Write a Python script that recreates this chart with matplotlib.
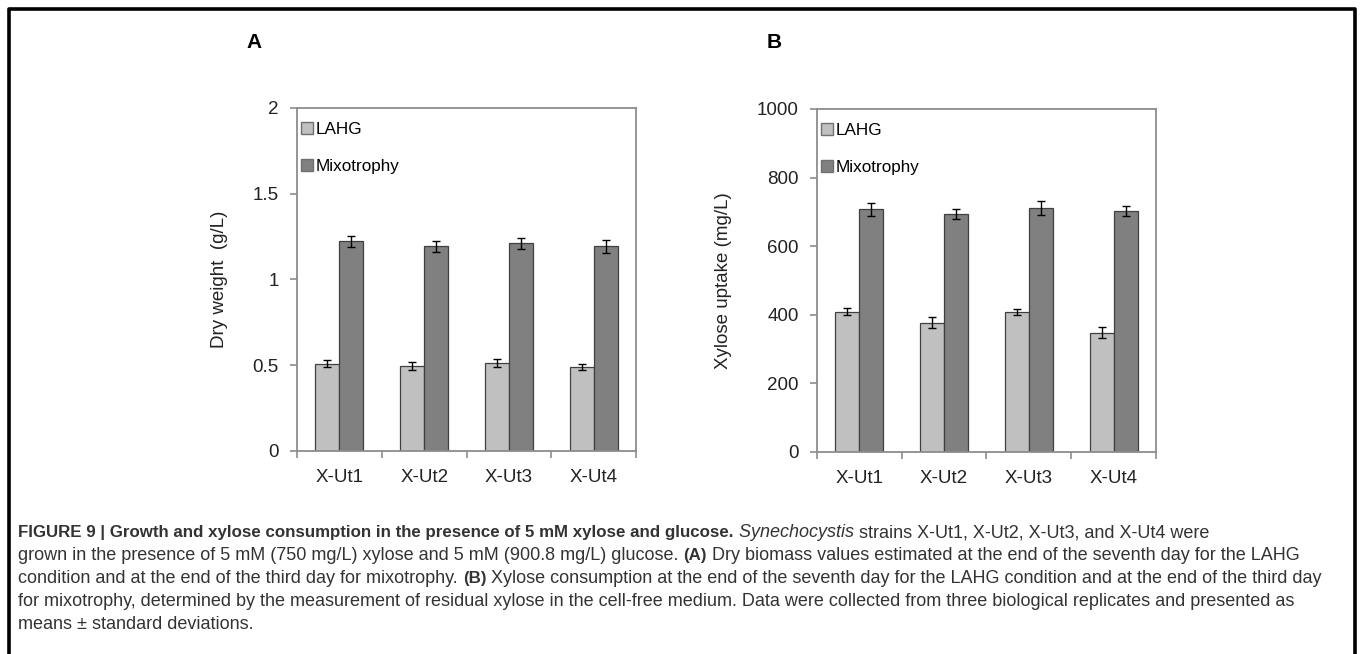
import numpy as np
import matplotlib
matplotlib.use("Agg")
import matplotlib.pyplot as plt
from matplotlib.lines import Line2D

plt.rcParams['font.family'] = ['Liberation Sans', 'DejaVu Sans']

strains = ["X-Ut1", "X-Ut2", "X-Ut3", "X-Ut4"]
series = ["LAHG", "Mixotrophy"]

# panel A: dry weight (g/L)
dw_lahg = [0.509, 0.494, 0.513, 0.490]
dw_lahg_err = [0.020, 0.022, 0.022, 0.015]
dw_mixo = [1.222, 1.193, 1.210, 1.193]
dw_mixo_err = [0.033, 0.033, 0.030, 0.038]

# panel B: xylose uptake (mg/L)
xu_lahg = [409, 377, 409, 347]
xu_lahg_err = [11, 16, 9, 16]
xu_mixo = [707, 694, 712, 702]
xu_mixo_err = [20, 15, 21, 15]

light = "#c0c0c0"
dark = "#808080"
edge = "#404040"
frame = "#8c8c8c"

fig = plt.figure(figsize=(13.6, 6.54), dpi=100)


def panel(rect, lahg, lahg_err, mixo, mixo_err, ymax, ystep, ylabel, letter):
    ax = fig.add_axes(rect)
    x = np.arange(len(strains))
    w = 0.284
    ax.bar(x - w / 2, lahg, w, color=light, edgecolor=edge, linewidth=0.9, label=series[0])
    ax.bar(x + w / 2, mixo, w, color=dark, edgecolor=edge, linewidth=0.9, label=series[1])
    ax.errorbar(x - w / 2, lahg, yerr=lahg_err, fmt="none", ecolor="black", elinewidth=1, capsize=3, capthick=1)
    ax.errorbar(x + w / 2, mixo, yerr=mixo_err, fmt="none", ecolor="black", elinewidth=1, capsize=3, capthick=1)
    ax.set_xlim(-0.5, len(strains) - 0.5)
    ax.set_ylim(0, ymax)
    ticks = np.arange(0, ymax + ystep / 2, ystep)
    ax.set_yticks(ticks)
    ax.set_yticklabels(["%g" % v for v in ticks])
    ax.set_xticks(np.arange(-0.5, len(strains)), labels=[""] * (len(strains) + 1))
    ax.set_xticks(x, labels=strains, minor=True)
    ax.tick_params(axis="x", which="minor", length=0, labelsize=13.5, pad=13, colors="#222222")
    ax.tick_params(axis="x", which="major", length=5, width=1.2, color=frame, direction="out")
    ax.tick_params(axis="y", length=5, width=1.2, color=frame, labelsize=13.5, pad=8, labelcolor="#222222")
    for s in ax.spines.values():
        s.set_color(frame)
        s.set_linewidth(1.3)
    ax.set_ylabel(ylabel, fontsize=13.5, labelpad=18, color="#222222")
    handles = [Line2D([], [], marker="s", linestyle="none", markersize=8,
                      markerfacecolor=c, markeredgecolor="#707070") for c in (light, dark)]
    ax.legend(handles, series, loc="upper left", bbox_to_anchor=(-0.027, 1.0),
              frameon=False, fontsize=12.3,
              handlelength=0.6, handletextpad=0.2, labelspacing=1.3,
              borderaxespad=0.6, borderpad=0.2)
    fig.text(rect[0] - 0.037, 0.935, letter, fontsize=15, fontweight="bold", va="center")
    return ax


panel([0.2184, 0.3104, 0.2493, 0.5245], dw_lahg, dw_lahg_err, dw_mixo, dw_mixo_err,
      2, 0.5, "Dry weight  (g/L)", "A")
panel([0.6007, 0.3089, 0.2493, 0.5245], xu_lahg, xu_lahg_err, xu_mixo, xu_mixo_err,
      1000, 200, "Xylose uptake (mg/L)", "B")

# outer frame (top, left, right)
fig.add_artist(Line2D([9 / 1360, 9 / 1360, 1355 / 1360, 1355 / 1360],
                      [0, 1 - 9 / 654, 1 - 9 / 654, 0], color="black", linewidth=2.6,
                      transform=fig.transFigure))

# caption, drawn run by run
caption = [
    [("FIGURE 9 | Growth and xylose consumption in the presence of 5 mM xylose and glucose.", "bold"),
     (" Synechocystis", "italic"),
     (" strains X-Ut1, X-Ut2, X-Ut3, and X-Ut4 were", "normal")],
    [("grown in the presence of 5 mM (750 mg/L) xylose and 5 mM (900.8 mg/L) glucose. ", "normal"),
     ("(A)", "bold"),
     (" Dry biomass values estimated at the end of the seventh day for the LAHG", "normal")],
    [("condition and at the end of the third day for mixotrophy. ", "normal"),
     ("(B)", "bold"),
     (" Xylose consumption at the end of the seventh day for the LAHG condition and at the end of the third day", "normal")],
    [("for mixotrophy, determined by the measurement of residual xylose in the cell-free medium. Data were collected from three biological replicates and presented as", "normal")],
    [("means \u00b1 standard deviations.", "normal")],
]
cap_color = "#333333"
fig.canvas.draw()
renderer = fig.canvas.get_renderer()
y0 = 537
for i, runs in enumerate(caption):
    xpx = 18
    ypx = y0 + i * 23
    for txt, style in runs:
        kw = dict(fontsize=13.0, color=cap_color, va="baseline", ha="left")
        if style == "bold":
            kw["fontweight"] = "bold"
            kw["fontsize"] = 12.2
        elif style == "italic":
            kw["fontstyle"] = "italic"
        t = fig.text(xpx / 1360, 1 - ypx / 654, txt, **kw)
        bb = t.get_window_extent(renderer=renderer)
        xpx += bb.width

fig.savefig("out.png", dpi=100)
